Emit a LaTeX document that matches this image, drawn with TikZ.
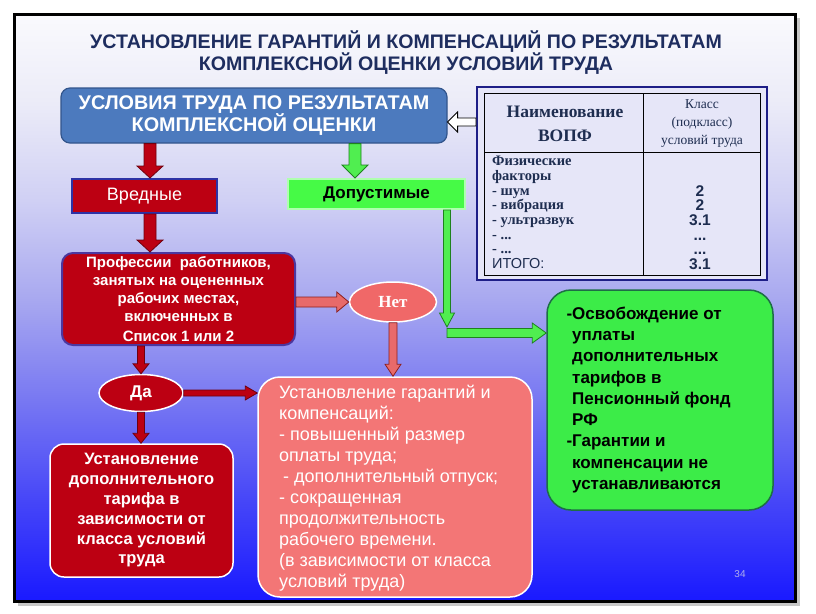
\documentclass[tikz,border=0pt]{standalone}
\usepackage{fontspec}
\setmainfont{Liberation Sans}
\newfontfamily\serifb{Liberation Serif}
\newfontfamily\titlef{Liberation Sans}
\usetikzlibrary{calc,shapes.geometric}
\definecolor{bg0}{RGB}{25,25,255}
\definecolor{bg1}{RGB}{70,70,248}
\definecolor{bg2}{RGB}{120,120,242}
\definecolor{bg3}{RGB}{168,168,240}
\definecolor{bg4}{RGB}{208,208,244}
\definecolor{bg5}{RGB}{236,236,248}
\definecolor{bg6}{RGB}{250,250,253}
\pgfdeclareverticalshading{bgshade}{100bp}{color(0bp)=(bg0); color(25bp)=(bg0); color(33.6bp)=(bg1); color(42.2bp)=(bg2); color(50.7bp)=(bg3); color(59.2bp)=(bg4); color(67.7bp)=(bg5); color(75bp)=(bg6); color(100bp)=(bg6)}
\definecolor{titleblue}{RGB}{30,45,95}
\definecolor{mainblue}{RGB}{76,122,190}
\definecolor{mainedge}{RGB}{50,85,140}
\definecolor{dred}{RGB}{188,0,18}
\definecolor{dredge}{RGB}{110,0,15}
\definecolor{vborder}{RGB}{45,50,165}
\definecolor{pborder}{RGB}{75,55,160}
\definecolor{dopfill}{RGB}{70,250,70}
\definecolor{dopedge}{RGB}{175,255,175}
\definecolor{netfill}{RGB}{240,104,104}
\definecolor{pinkfill}{RGB}{243,118,118}
\definecolor{pinkarr}{RGB}{232,106,106}
\definecolor{pinkedge}{RGB}{140,30,30}
\definecolor{grfill}{RGB}{60,236,72}
\definecolor{gredge}{RGB}{30,110,70}
\definecolor{garfill}{RGB}{80,238,80}
\definecolor{garedge}{RGB}{30,130,30}
\definecolor{tblnavy}{RGB}{30,30,135}
\definecolor{tblfill}{RGB}{230,230,248}
\definecolor{tbltext}{RGB}{30,45,80}
\definecolor{pgnum}{RGB}{175,175,235}
\begin{document}
\begin{tikzpicture}[x=1pt,y=-1pt,
  aw/.store in=\aw, ah/.store in=\ah, al/.store in=\al,
  aw=6pt, ah=13pt, al=12pt,
  barrow/.style={to path={let \p1=(\tikztostart),\p2=(\tikztotarget),
     \n1={atan2(\y2-\y1,\x2-\x1)},\n2={veclen(\x2-\x1,\y2-\y1)} in
     ([shift={(\p1)},rotate=\n1]0pt,\aw) -- ([shift={(\p1)},rotate=\n1]\n2*1pt-\al,\aw)
     -- ([shift={(\p1)},rotate=\n1]\n2*1pt-\al,\ah) -- ([shift={(\p1)},rotate=\n1]\n2*1pt,0pt)
     -- ([shift={(\p1)},rotate=\n1]\n2*1pt-\al,-\ah) -- ([shift={(\p1)},rotate=\n1]\n2*1pt-\al,-\aw)
     -- ([shift={(\p1)},rotate=\n1]0pt,-\aw) -- cycle}},
  redarr/.style={barrow, fill=dred, draw=dredge, line width=0.8pt},
  pinkarrow/.style={barrow, fill=pinkarr, draw=pinkedge, line width=0.8pt},
  greenarr/.style={barrow, fill=garfill, draw=garedge, line width=0.8pt},
  hollowarr/.style={barrow, fill=white, draw=black, line width=0.9pt},
  box/.style={rectangle, inner sep=0pt, align=center},
  redbox/.style={box, fill=dred, text=white},
]
\useasboundingbox (0,0) rectangle (816,613);
\fill[white] (0,0) rectangle (816,613);
\fill[black!22] (18,18) rectangle (799.5,605.5);
\path[shade, shading=bgshade, draw=black, line width=3.5pt] (14.5,14.5) rectangle (795.5,601.5);

% title
\node[align=center, text=titleblue, font=\titlef\bfseries\fontsize{19.6}{20.5}\selectfont] (title) at (406,52.5)
  {УСТАНОВЛЕНИЕ ГАРАНТИЙ И КОМПЕНСАЦИЙ ПО РЕЗУЛЬТАТАМ\\КОМПЛЕКСНОЙ ОЦЕНКИ УСЛОВИЙ ТРУДА};

% main box
\node[box, rounded corners=9pt, fill=mainblue, draw=mainedge, line width=1.2pt,
  minimum width=386pt, minimum height=55pt, text=white,
  font=\bfseries\fontsize{19.8}{22}\selectfont] (main) at (254,115.5)
  {\raisebox{-2pt}{УСЛОВИЯ ТРУДА ПО РЕЗУЛЬТАТАМ}\\\raisebox{-2pt}{КОМПЛЕКСНОЙ ОЦЕНКИ}};

% table
\node[rectangle, draw=tblnavy, line width=2pt, fill=tblfill, minimum width=290pt, minimum height=193pt] (tbl) at (622,183.5) {};
\draw[black, line width=0.8pt] (484,93) rectangle (760,275);
\draw[black, line width=0.8pt] (643,93) -- (643,275);
\draw[black, line width=0.8pt] (484,152) -- (760,152);
\node[align=center, text=tbltext, font=\serifb\bfseries\fontsize{17.5}{24}\selectfont] (th1) at (565,123.5) {Наименование\\ВОПФ};
\node[align=center, text=tbltext, font=\serifb\fontsize{13.5}{18}\selectfont] (th2) at (702,123.5) {Класс\\(подкласс)\\условий труда};
\node[align=left, anchor=north west, inner sep=0pt, text=tbltext, font=\serifb\bfseries\fontsize{14.5}{14.7}\selectfont] (tb1) at (492,156)
  {Физические\\факторы\\- шум\\- вибрация\\- ультразвук\\- ...\\- ...\\\textmd{\fontspec{Liberation Sans}ИТОГО:}};
\node[align=center, anchor=north, inner sep=0pt, text=tbltext, font=\bfseries\fontsize{15.5}{14.7}\selectfont] (tb2) at (700,185)
  {2\\2\\3.1\\...\\...\\3.1};

% second row
\node[redbox, draw=vborder, line width=2pt, minimum width=145pt, minimum height=34pt,
  font=\fontsize{18}{20}\selectfont] (vred) at (144.5,196) {Вредные};
\node[box, fill=dopfill, draw=dopedge, line width=2pt, minimum width=177pt, minimum height=30pt,
  font=\bfseries\fontsize{17}{20}\selectfont] (dop) at (376.5,194) {Допустимые};

% professions
\node[redbox, rounded corners=11pt, draw=pborder, line width=2pt, minimum width=233pt, minimum height=92pt,
  font=\bfseries\fontsize{15}{18}\selectfont] (prof) at (178.5,299)
  {Профессии\ \ работников,\\занятых на оцененных\\рабочих местах,\\включенных в\\[2pt]Список 1 или 2};

\node[ellipse, fill=netfill, draw=white, line width=1.5pt, minimum width=87pt, minimum height=40pt, inner sep=0pt,
  text=white, font=\serifb\bfseries\fontsize{17}{18}\selectfont] (net) at (393,302) {Нет};
\node[ellipse, fill=dred, draw=white, line width=1.5pt, minimum width=84pt, minimum height=37pt, inner sep=0pt,
  text=white, font=\bfseries\fontsize{17}{18}\selectfont] (da) at (141,393) {Да};

% bottom-left
\node[redbox, rounded corners=14pt, draw=white, line width=1.5pt, minimum width=183pt, minimum height=133pt,
  font=\bfseries\fontsize{16.5}{19.8}\selectfont] (bl) at (141.5,510.5)
  {Установление\\дополнительного\\тарифа в\\зависимости от\\класса условий\\труда};

% pink box
\node[rectangle, rounded corners=22pt, fill=pinkfill, draw=white, line width=1.5pt, minimum width=274pt, minimum height=220pt] (pink) at (395,487) {};
\node[align=left, anchor=west, inner sep=0pt, text=white, font=\fontsize{18}{21}\selectfont] (pinkt) at (279,488)
  {Установление гарантий и\\компенсаций:\\- повышенный размер\\оплаты труда;\\\hspace{4pt}- дополнительный отпуск;\\- сокращенная\\продолжительность\\рабочего времени.\\(в зависимости от класса\\условий труда)};

% green box
\node[rectangle, rounded corners=24pt, fill=grfill, draw=gredge, line width=1.5pt, minimum width=226pt, minimum height=220pt] (green) at (660,400) {};
\node[align=left, anchor=west, inner sep=0pt, text=black, font=\bfseries\fontsize{17}{21.25}\selectfont] (greent) at (572,400)
  {\llap{-}Освобождение от\\уплаты\\дополнительных\\тарифов в\\Пенсионный фонд\\РФ\\\llap{-}Гарантии и\\компенсации не\\устанавливаются};

\node[font=\fontsize{10}{12}\selectfont, text=pgnum] (pg) at (740,574) {34};

% coordinates
\coordinate (hy) at (0,122);
\coordinate (gbend) at (447,327);
\coordinate (gbend2) at (447,333);

% arrows
\draw[hollowarr, aw=4pt, ah=10pt, al=10pt] (tbl.west |- hy) to (main.east |- hy);
\draw[redarr, aw=6pt, ah=13pt, al=12pt] ([xshift=5.5pt]vred.north |- main.south) to ([xshift=5.5pt]vred.north);
\draw[redarr, aw=6pt, ah=13pt, al=12pt] ([xshift=5.5pt]vred.south) to ([xshift=5.5pt]vred.south |- prof.north);
\draw[greenarr, aw=6pt, ah=13pt, al=13pt] ([xshift=-21.5pt]dop.north |- main.south) to ([xshift=-21.5pt]dop.north);
\draw[greenarr, aw=3.5pt, ah=7.5pt, al=14pt] (dop.south -| gbend) to (gbend);
\draw[greenarr, aw=4.5pt, ah=10pt, al=14pt] (gbend2) to (gbend2 -| green.west);
\draw[pinkarrow, aw=5pt, ah=10pt, al=12pt] (prof.east |- net.west) to (net.west);
\draw[pinkarrow, aw=4pt, ah=8pt, al=12pt] (net.south) to (net.south |- pink.north);
\draw[redarr, aw=3.5pt, ah=8pt, al=10pt] (prof.south -| da.north) to (da.north);
\draw[redarr, aw=3pt, ah=7pt, al=12pt] (da.east) to (da.east -| pink.west);
\draw[redarr, aw=3.5pt, ah=8pt, al=10pt] (da.south) to (da.south |- bl.north);
\end{tikzpicture}
\end{document}
